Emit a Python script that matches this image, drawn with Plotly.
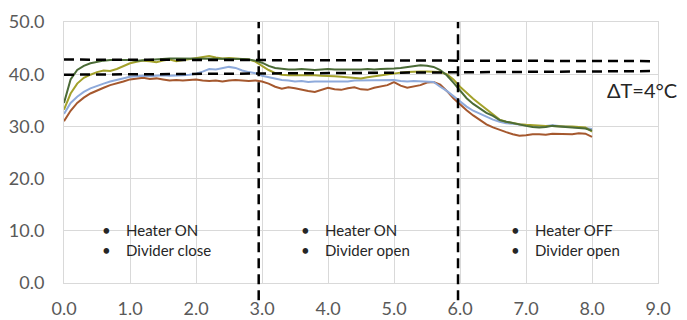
import plotly.graph_objects as go

# time axis (0.0 .. 8.0 step 0.1)
time = [round(i * 0.1, 1) for i in range(81)]

green = [34.5, 39.0, 40.8, 41.6, 42.1, 42.4, 42.6, 42.7, 42.7, 42.8,
         42.7, 42.6, 42.7, 42.8, 42.9, 42.9, 43.0, 43.0, 43.0, 42.9,
         42.9, 43.0, 42.9, 42.9, 43.0, 42.9, 42.9, 42.9, 42.8, 42.6,
         42.2, 41.6, 41.2, 41.0, 40.9, 40.9, 41.0, 40.9, 40.8, 40.9,
         41.0, 40.9, 40.9, 40.8, 40.9, 40.9, 41.0, 40.9, 41.0, 41.0,
         41.1, 41.2, 41.4, 41.6, 41.7, 41.6, 41.4, 40.8, 39.8, 38.4,
         37.0, 35.4, 34.3, 33.4, 32.6, 32.0, 31.2, 30.9, 30.6, 30.4,
         30.1, 29.9, 29.8, 29.9, 30.1, 30.0, 29.9, 29.9, 29.7, 29.6, 29.2]

olive = [33.2, 36.3, 38.2, 39.3, 39.9, 40.4, 40.7, 40.6, 41.0, 41.6,
         42.1, 42.4, 42.6, 42.5, 42.3, 42.6, 42.8, 42.5, 42.7, 43.0,
         43.1, 43.3, 43.5, 43.2, 43.0, 43.1, 43.0, 42.9, 42.8, 42.4,
         41.6, 40.8, 40.2, 39.9, 39.8, 39.8, 39.9, 39.8, 39.8, 39.7,
         39.7, 39.6, 39.5, 39.4, 39.3, 39.2, 39.4, 39.6, 39.8, 40.0,
         40.2, 40.3, 40.4, 40.5, 40.5, 40.5, 40.5, 40.4, 40.0, 39.0,
         37.6, 36.4, 35.3, 34.3, 33.3, 32.3, 31.3, 30.9, 30.6, 30.4,
         30.3, 30.2, 30.1, 30.1, 30.1, 30.0, 30.0, 30.0, 29.9, 29.8, 29.0]

blue = [32.4, 34.5, 35.7, 36.6, 37.3, 37.8, 38.2, 38.6, 38.9, 39.3,
        39.5, 39.6, 39.7, 39.6, 39.7, 39.8, 39.7, 39.7, 39.8, 39.9,
        40.1, 40.5, 41.0, 40.9, 41.2, 41.4, 41.2, 40.7, 40.4, 40.2,
        39.7, 39.4, 39.1, 38.9, 38.8, 38.6, 38.7, 38.5, 38.6, 38.6,
        38.7, 38.6, 38.7, 38.6, 38.8, 38.8, 38.9, 38.9, 38.8, 38.9,
        38.9, 38.7, 38.6, 38.7, 38.6, 38.6, 38.5, 37.6, 36.8, 35.8,
        34.8, 33.8, 33.0, 32.4, 31.8, 31.3, 30.9, 30.6, 30.5, 30.3,
        30.2, 30.1, 30.0, 30.1, 30.2, 30.1, 30.0, 30.0, 29.9, 29.7, 29.5]

brown = [31.0, 33.0, 34.5, 35.5, 36.3, 36.9, 37.4, 37.9, 38.2, 38.6,
         39.0, 39.2, 39.3, 39.1, 39.2, 39.0, 38.8, 38.9, 38.8, 38.9,
         39.0, 38.8, 38.7, 38.8, 38.6, 38.8, 38.9, 38.8, 38.7, 38.8,
         38.6, 38.2, 37.6, 37.2, 37.5, 37.3, 37.0, 36.8, 36.6, 37.0,
         37.4, 37.1, 37.0, 37.3, 37.5, 37.1, 37.0, 37.4, 37.6, 37.9,
         38.5, 37.8, 37.4, 37.6, 37.9, 38.4, 38.5, 38.0, 36.8, 35.4,
         34.2, 33.1, 32.1, 31.2, 30.4, 29.8, 29.3, 28.9, 28.5, 28.2,
         28.3, 28.5, 28.5, 28.4, 28.6, 28.6, 28.6, 28.5, 28.7, 28.6, 28.0]

# guide lines
phase_changes = [2.95, 5.97]
band_upper = [42.8, 42.5]   # at x = 0 and x = 8.95
band_lower = [39.9, 40.6]
band_x = [0.0, 8.95]

x_ticks = [0, 1, 2, 3, 4, 5, 6, 7, 8, 9]
y_ticks = [0, 10, 20, 30, 40, 50]

phase_labels = [
    (0.55, ["Heater ON", "Divider close"]),
    (3.56, ["Heater ON", "Divider open"]),
    (6.74, ["Heater OFF", "Divider open"]),
]

series = [
    ("brown", brown, "#a5582e"),
    ("blue", blue, "#8eaadb"),
    ("olive", olive, "#a3a12a"),
    ("green", green, "#4b6b37"),
]

fig = go.Figure()
for name, vals, col in series:
    fig.add_trace(go.Scatter(x=time, y=vals, mode="lines", name=name,
                             line=dict(color=col, width=2), showlegend=False))

shapes = []
for xv in phase_changes:
    shapes.append(dict(type="line", xref="x", yref="paper", x0=xv, x1=xv,
                       y0=-0.066, y1=1.0,
                       line=dict(color="black", width=2.5, dash="10px,6px")))
for ys in (band_upper, band_lower):
    shapes.append(dict(type="line", xref="x", yref="y", x0=band_x[0], x1=band_x[1],
                       y0=ys[0], y1=ys[1],
                       line=dict(color="black", width=2.5, dash="10px,6px")))

annotations = []
for xv, lines in phase_labels:
    for i, t in enumerate(lines):
        annotations.append(dict(x=xv, y=10.1 - i * 3.7, xref="x", yref="y",
                                text="•&nbsp;&nbsp;&nbsp;&nbsp;" + t, showarrow=False,
                                xanchor="left", yanchor="middle",
                                font=dict(family="Lato, sans-serif", size=15, color="#262626")))
annotations.append(dict(x=8.2, y=37.0, xref="x", yref="y", text="ΔT=4°C",
                        showarrow=False, xanchor="left", yanchor="middle",
                        font=dict(family="Lato, sans-serif", size=20, color="#262626")))

# page body adds an 8px offset; figure is sized so the plot area lands where the reference has it
fig.update_layout(
    width=679, height=312,
    margin=dict(l=56, r=29, t=14, b=37),
    plot_bgcolor="white", paper_bgcolor="white",
    shapes=shapes, annotations=annotations,
    xaxis=dict(range=[0, 9], tickvals=x_ticks, tickformat=".1f", automargin=False,
               showgrid=True, gridcolor="#d9d9d9", gridwidth=1,
               showline=True, linecolor="#d9d9d9", mirror=True, zeroline=False,
               ticks="outside", ticklen=9, tickcolor="rgba(0,0,0,0)",
               tickfont=dict(family="Lato, sans-serif", size=18, color="#595959")),
    yaxis=dict(range=[0, 50], tickvals=y_ticks, tickformat=".1f", automargin=False,
               showgrid=True, gridcolor="#d9d9d9", gridwidth=1,
               showline=True, linecolor="#d9d9d9", mirror=True, zeroline=False,
               ticks="outside", ticklen=15, tickcolor="rgba(0,0,0,0)",
               tickfont=dict(family="Lato, sans-serif", size=18, color="#595959")),
)

fig.write_html("out.html")
